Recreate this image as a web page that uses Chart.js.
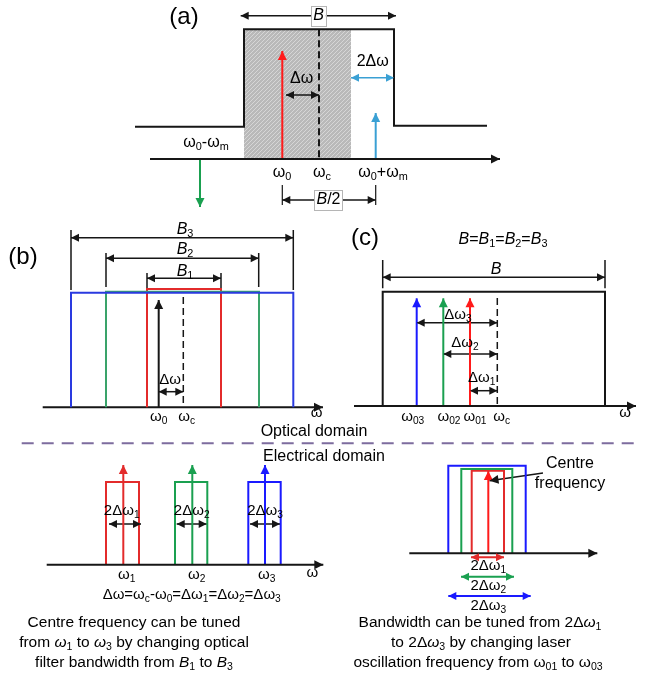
<!DOCTYPE html>
<html><head><meta charset="utf-8">
<script src="https://cdn.jsdelivr.net/npm/chart.js@4/dist/chart.umd.min.js"></script>
<style>html,body{margin:0;padding:0;background:#fff}#wrap{width:649px;height:686px}</style>
</head><body><div id="wrap"><canvas id="c" width="649" height="686"></canvas></div>
<script>
// ===== DATA (diagram coordinates, x: 0..649, y: 0..686 downward) =====
// Panel (a)
const filterA   = [[135,126.7],[244,126.7],[244,29.3],[394,29.3],[394,125.7],[487,125.7]];
const shadeA    = [[244,29.3],[351,29.3],[351,159],[244,159]];
const axisA     = [[150,159],[500,159]];
const carrierA  = [[282.3,159],[282.3,51]];
const centreA   = [[319,29.3],[319,159]];
const dwA       = [[286,95],[319,95]];
const twoDwA    = [[351,77.7],[394,77.7]];
const upperSbA  = [[375.7,159],[375.7,113]];
const lowerSbA  = [[200,159],[200,207]];
const bArrowA   = [[240.7,15.7],[396,15.7]];
const halfTickL = [[282.3,185],[282.3,205]];
const halfTickR = [[375.7,185],[375.7,205]];
const halfArrow = [[282.3,200],[375.7,200]];

// Panel (b)
const rectB3 = [[71,407.3],[71,292.7],[293.3,292.7],[293.3,407.3]];
const rectB2 = [[106,407.3],[106,291.7],[259,291.7],[259,407.3]];
const rectB1 = [[147,407.3],[147,289],[221,289],[221,407.3]];
const ticksB = [
  [[71,230],[71,290]], [[293.3,230],[293.3,290]],
  [[106,253],[106,287]], [[258.7,253],[258.7,287]],
  [[147,273],[147,290]], [[221,273],[221,290]]
];
const dimB3 = [[71,237.7],[293.3,237.7]];
const dimB2 = [[106,258.3],[258.7,258.3]];
const dimB1 = [[147,278.3],[221,278.3]];
const axisB = [[42.7,407.3],[323,407.3]];
const carrierB = [[158.7,407.3],[158.7,300]];
const centreB = [[183.3,297],[183.3,407.3]];
const dwB = [[158.7,391.7],[183.3,391.7]];

// Panel (c)
const rectC = [[382.7,406],[382.7,291.7],[605,291.7],[605,406]];
const ticksC = [[[382.7,260],[382.7,288.3]], [[605,260],[605,288.3]]];
const dimC = [[382.7,277.3],[605,277.3]];
const axisC = [[354,406],[636,406]];
const lasersC = [
  [[416.7,406],[416.7,298.3]],
  [[443.3,406],[443.3,298.3]],
  [[470,406],[470,298.3]]
];
const centreC = [[497.3,298],[497.3,406]];
const dwC3 = [[416.7,322.7],[497.3,322.7]];
const dwC2 = [[443.3,354],[497.3,354]];
const dwC1 = [[470,390.7],[497.3,390.7]];

// Separator
const separator = [[21.7,443.3],[638,443.3]];

// Electrical domain, left
const axisEL = [[46.7,564.7],[323.3,564.7]];
const rectsEL = [
  [[106,564.7],[106,482],[139,482],[139,564.7]],
  [[175,564.7],[175,482],[207.3,482],[207.3,564.7]],
  [[248.3,564.7],[248.3,482],[280.7,482],[280.7,564.7]]
];
const linesEL = [
  [[123.3,564.7],[123.3,465]],
  [[192.3,564.7],[192.3,465]],
  [[265,564.7],[265,465]]
];
const bwEL = [
  [[109,524],[141,524]],
  [[176.7,524],[206.7,524]],
  [[250,524],[280,524]]
];

// Electrical domain, right
const axisER = [[409.3,553.3],[597.3,553.3]];
const rectsER = [
  [[448.3,553.3],[448.3,465.7],[525.7,465.7],[525.7,553.3]],
  [[461.3,553.3],[461.3,469],[512.3,469],[512.3,553.3]],
  [[471.7,553.3],[471.7,470.7],[504,470.7],[504,553.3]]
];
const lineER = [[488.3,553.3],[488.3,471]];
const pointerER = [[543,473],[489.5,480.7]];
const bwER = [
  [[471,557.3],[504,557.3]],
  [[461,576.7],[514,576.7]],
  [[448.3,596],[530.7,596]]
];

// Text (markup: *..* italic, _x or _{..} subscript)
const panelTitles = [['(a)',184,17],['(b)',23,257],['(c)',365,238]];
const boxedLabels = [['*B*',318.5,16],['*B*/2',328.5,200]];
const labels16 = [
  ['Δω',301.7,79],['2Δω',372.7,62],['ω_0-ω_m',206,143],
  ['ω_0',282,173],['ω_c',322,173],['ω_0+ω_m',383,173],
  ['*B*_3',185,230],['*B*_2',185,250],['*B*_1',185,271.5],
  ['*B*=*B*_1=*B*_2=*B*_3',503,240],['*B*',496,270],
  ['Optical domain',314,431.7],['Electrical domain',324,456.7],
  ['Centre',570,463.3],['frequency',570,483.3]
];
const labels15 = [
  ['Δω',170,380],['ω_0',158.7,416.7],['ω_c',186.7,416.7],['ω',316.7,413],
  ['Δω_3',458,315],['Δω_2',465,343],['Δω_1',481.7,378],
  ['ω_{03}',412.7,416.7],['ω_{02}',449,416.7],['ω_{01}',475,416.7],['ω_c',501.7,416.7],['ω',625,413],
  ['2Δω_1',121.7,510.7],['2Δω_2',191.7,510.7],['2Δω_3',265,510.7],
  ['ω_1',126.7,575],['ω_2',196.7,575],['ω_3',266.7,575],['ω',312.3,572.7],
  ['Δω=ω_c-ω_0=Δω_1=Δω_2=Δω_3',191.7,595],
  ['2Δω_1',488.3,566],['2Δω_2',488.3,585.7],['2Δω_3',488.3,606]
];
const paragraphs = [
  ['Centre frequency can be tuned',134,623],
  ['from *ω*_1 to *ω*_3 by changing optical',134,643],
  ['filter bandwidth from *B*_1 to *B*_3',134,663],
  ['Bandwidth can be tuned from 2Δ*ω*_1',480,623],
  ['to 2Δ*ω*_3 by changing laser',481,643],
  ['oscillation frequency from ω_{01} to ω_{03}',478,663]
];

// ===== STYLES & BUILD =====
const COL = {
  black:'#161616', red:'#ff1a1a', red2:'#e32b2b', green:'#1aa050', green2:'#3aa36a',
  blue:'#1a1aff', blue2:'#2a3ae0', lblue:'#3aa0d4', sep:'#7d6c9e'
};
const datasets = [];
function line(pts, color, width, o) {
  o = o || {};
  datasets.push({
    type:'scatter', data: pts.map(p => ({x:p[0], y:p[1]})), showLine:true,
    pointRadius:0, pointHoverRadius:0, borderColor:color, backgroundColor:color,
    borderWidth:width, borderDash:o.dash || [], fill:false, tension:0, clip:false,
    borderCapStyle:'butt', borderJoinStyle:'miter',
    arrowStart:!!o.start, arrowEnd:!!o.end, headLen:o.hl || 9, headW:o.hw || 4.5
  });
}
const both = {start:true, end:true, hl:8, hw:4};
const tip = {end:true, hl:9, hw:4.5};

// (a)
line(filterA, COL.black, 2);
line(axisA, COL.black, 2, tip);
line(centreA, COL.black, 2, {dash:[7,4]});
line(carrierA, COL.red, 2, tip);
line(dwA, COL.black, 1.5, both);
line(twoDwA, COL.lblue, 1.5, both);
line(upperSbA, COL.lblue, 2, tip);
line(lowerSbA, COL.green, 2, tip);
line(bArrowA, COL.black, 1.5, both);
line(halfTickL, COL.black, 1.2);
line(halfTickR, COL.black, 1.2);
line(halfArrow, COL.black, 1.5, both);
// (b)
line(rectB3, COL.blue2, 2);
line(rectB2, COL.green2, 2);
line(rectB1, COL.red2, 2);
ticksB.forEach(t => line(t, COL.black, 1.5));
line(dimB3, COL.black, 1.5, both);
line(dimB2, COL.black, 1.5, both);
line(dimB1, COL.black, 1.5, both);
line(axisB, COL.black, 2, tip);
line(carrierB, COL.black, 2, tip);
line(centreB, COL.black, 1.5, {dash:[7,4]});
line(dwB, COL.black, 1.5, both);
// (c)
line(rectC, COL.black, 2);
ticksC.forEach(t => line(t, COL.black, 1.5));
line(dimC, COL.black, 1.5, both);
line(axisC, COL.black, 2, tip);
[COL.blue, COL.green, COL.red].forEach((c,i) => line(lasersC[i], c, 2, tip));
line(centreC, COL.black, 1.5, {dash:[7,4]});
line(dwC3, COL.black, 1.5, both);
line(dwC2, COL.black, 1.5, both);
line(dwC1, COL.black, 1.5, both);
// separator
line(separator, COL.sep, 2, {dash:[12,8]});
// electrical left
const trio = [COL.red2, COL.green, COL.blue];
line(axisEL, COL.black, 2, tip);
rectsEL.forEach((r,i) => line(r, trio[i], 2));
linesEL.forEach((r,i) => line(r, trio[i], 2, tip));
bwEL.forEach(r => line(r, COL.black, 1.5, both));
// electrical right
line(axisER, COL.black, 2, tip);
[COL.blue, COL.green, COL.red2].forEach((c,i) => line(rectsER[i], c, 2));
line(lineER, COL.red, 2, tip);
line(pointerER, COL.black, 1.5, tip);
bwER.forEach((r,i) => line(r, trio[i], 2, both));

// hatch pattern
function hatch() {
  const p = document.createElement('canvas'); p.width = 4; p.height = 4;
  const g = p.getContext('2d');
  g.fillStyle = '#b9b9b9'; g.fillRect(0,0,4,4);
  g.strokeStyle = '#d6d6d6'; g.lineWidth = 1;
  g.beginPath(); g.moveTo(0,4); g.lineTo(4,0); g.moveTo(-1,1); g.lineTo(1,-1); g.moveTo(3,5); g.lineTo(5,3); g.stroke();
  return p;
}

const FONT = '"Liberation Sans", Arial, sans-serif';
function parse(s) {
  const segs = []; let it = false, i = 0, buf = '';
  const flush = () => { if (buf) { segs.push({t:buf, it, sub:false}); buf=''; } };
  while (i < s.length) {
    const ch = s[i];
    if (ch === '*') { flush(); it = !it; i++; }
    else if (ch === '_') {
      flush();
      if (s[i+1] === '{') { const j = s.indexOf('}', i); segs.push({t:s.slice(i+2,j), it, sub:true}); i = j+1; }
      else { segs.push({t:s[i+1], it, sub:true}); i += 2; }
    } else { buf += ch; i++; }
  }
  flush();
  return segs;
}
function fontOf(seg, size) { const sz = seg.sub ? size*0.68 : size; return (seg.it?'italic ':'') + sz + 'px ' + FONT; }
function drawRich(ctx, str, px, py, size, box) {
  const segs = parse(str);
  let w = 0;
  segs.forEach(sg => { ctx.font = fontOf(sg, size); sg.w = ctx.measureText(sg.t).width; w += sg.w; });
  let x = px - w/2;
  if (box) {
    ctx.fillStyle = '#fff'; ctx.strokeStyle = '#b5b5b5'; ctx.lineWidth = 1;
    ctx.fillRect(x-2, py-size*0.62, w+4, size*1.24);
    ctx.strokeRect(Math.round(x-2)+0.5, Math.round(py-size*0.62)+0.5, Math.round(w+4), Math.round(size*1.24));
  }
  ctx.fillStyle = '#000'; ctx.textBaseline = 'middle'; ctx.textAlign = 'left';
  segs.forEach(sg => { ctx.font = fontOf(sg, size); ctx.fillText(sg.t, x, py + (sg.sub ? size*0.28 : 0)); x += sg.w; });
}

const diagramPlugin = {
  id:'diagram',
  beforeDatasetsDraw(chart) {
    const ctx = chart.ctx, sx = chart.scales.x, sy = chart.scales.y;
    ctx.save();
    ctx.fillStyle = ctx.createPattern(hatch(), 'repeat');
    ctx.beginPath();
    shadeA.forEach((p,i) => { const X = sx.getPixelForValue(p[0]), Y = sy.getPixelForValue(p[1]); i ? ctx.lineTo(X,Y) : ctx.moveTo(X,Y); });
    ctx.closePath(); ctx.fill();
    ctx.restore();
  },
  afterDatasetsDraw(chart) {
    const ctx = chart.ctx, sx = chart.scales.x, sy = chart.scales.y;
    ctx.save();
    chart.data.datasets.forEach((ds, i) => {
      const pts = chart.getDatasetMeta(i).data;
      const head = (a, b) => {
        const ang = Math.atan2(b.y - a.y, b.x - a.x), L = ds.headLen, Wd = ds.headW;
        ctx.fillStyle = ds.borderColor; ctx.beginPath();
        ctx.moveTo(b.x, b.y);
        ctx.lineTo(b.x - L*Math.cos(ang) + Wd*Math.sin(ang), b.y - L*Math.sin(ang) - Wd*Math.cos(ang));
        ctx.lineTo(b.x - L*Math.cos(ang) - Wd*Math.sin(ang), b.y - L*Math.sin(ang) + Wd*Math.cos(ang));
        ctx.closePath(); ctx.fill();
      };
      if (ds.arrowEnd) head(pts[pts.length-2], pts[pts.length-1]);
      if (ds.arrowStart) head(pts[1], pts[0]);
    });
    const put = (arr, size, box) => arr.forEach(l => drawRich(ctx, l[0], sx.getPixelForValue(l[1]), sy.getPixelForValue(l[2]), size, box));
    put(panelTitles, 24);
    put(boxedLabels, 16, true);
    put(labels16, 16);
    put(labels15, 15);
    put(paragraphs, 15.5);
    ctx.restore();
  }
};

new Chart(document.getElementById('c'), {
  type:'scatter',
  data:{datasets},
  options:{
    responsive:false, animation:false, devicePixelRatio:1,
    layout:{padding:0},
    plugins:{legend:{display:false}, tooltip:{enabled:false}},
    events:[],
    scales:{
      x:{type:'linear', min:0, max:649, display:false},
      y:{type:'linear', min:0, max:686, reverse:true, display:false}
    }
  },
  plugins:[diagramPlugin]
});
</script></body></html>
